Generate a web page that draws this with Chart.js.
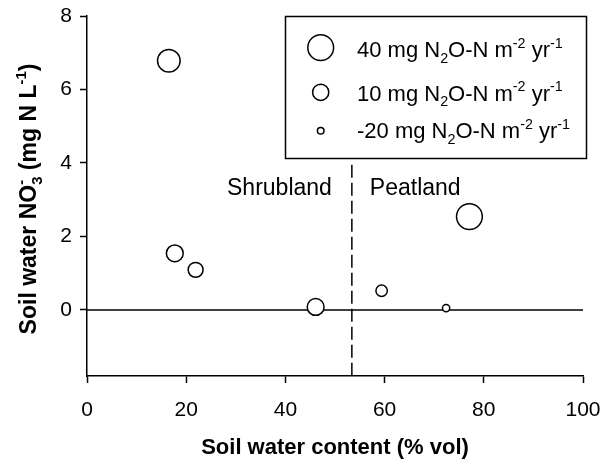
<!DOCTYPE html>
<html>
<head>
<meta charset="utf-8">
<script src="https://cdn.jsdelivr.net/npm/chart.js@4/dist/chart.umd.min.js"></script>
<style>
    html, body { margin: 0; padding: 0; background: #fff; }
</style>
</head>
<body>
<canvas id="chart" width="606" height="460"></canvas>
<script>
// soil water content (% vol) and nitrate (mg N / L) per site
const waterContent = [16.5, 17.7, 21.9, 46.1, 59.4, 72.4, 77.1];
const nitrate = [6.78, 1.54, 1.09, 0.08, 0.52, 0.05, 2.54];
// N2O flux, sets the bubble size
const n2oFlux = [30, 12, 6, 12, -5, -18, 40];

const legendFlux = [40, 10, -20];
const xTicks = [0, 20, 40, 60, 80, 100];
const yTicks = [0, 2, 4, 6, 8];
const boundary = 53.4;
const boundaryTop = 3.95;

const FONT = '"Liberation Sans", Arial, sans-serif';

function fluxRadius(v) {
    return 6.5 + 0.16 * v;
}

// parts: {t} normal, {t, sub}, {t, sup}, {sub, sup} stacked
function richWidth(ctx, parts, size, weight) {
    let w = 0;
    for (const p of parts) {
        if (p.stack) {
            ctx.font = `${weight} ${size * 0.65}px ${FONT}`;
            w += Math.max(ctx.measureText(p.sub).width, ctx.measureText(p.sup).width);
        } else {
            ctx.font = `${weight} ${(p.sub || p.sup) ? size * 0.65 : size}px ${FONT}`;
            w += ctx.measureText(p.t).width;
        }
    }
    return w;
}

function drawRich(ctx, parts, x, y, size, weight) {
    let cx = x;
    ctx.textBaseline = 'alphabetic';
    ctx.textAlign = 'left';
    for (const p of parts) {
        if (p.stack) {
            ctx.font = `${weight} ${size * 0.65}px ${FONT}`;
            ctx.fillText(p.sub, cx, y + size * 0.25);
            ctx.fillText(p.sup, cx, y - size * 0.42);
            cx += Math.max(ctx.measureText(p.sub).width, ctx.measureText(p.sup).width);
        } else if (p.sub) {
            ctx.font = `${weight} ${size * 0.65}px ${FONT}`;
            ctx.fillText(p.t, cx, y + size * 0.25);
            cx += ctx.measureText(p.t).width;
        } else if (p.sup) {
            ctx.font = `${weight} ${size * 0.65}px ${FONT}`;
            ctx.fillText(p.t, cx, y - size * 0.42);
            cx += ctx.measureText(p.t).width;
        } else {
            ctx.font = `${weight} ${size}px ${FONT}`;
            ctx.fillText(p.t, cx, y);
            cx += ctx.measureText(p.t).width;
        }
    }
}

function fluxLabel(v) {
    return [
        {t: v + ' mg N'}, {t: '2', sub: true}, {t: 'O-N m'},
        {t: '-2', sup: true}, {t: ' yr'}, {t: '-1', sup: true}
    ];
}

const decorations = {
    id: 'decorations',
    beforeDatasetsDraw(chart) {
        const ctx = chart.ctx;
        const xs = chart.scales.x, ys = chart.scales.y;
        const area = chart.chartArea;
        ctx.save();
        ctx.strokeStyle = '#000';
        ctx.lineWidth = 1.5;
        // zero line
        ctx.beginPath();
        ctx.moveTo(area.left, ys.getPixelForValue(0));
        ctx.lineTo(area.right, ys.getPixelForValue(0));
        ctx.stroke();
        // shrubland / peatland boundary
        ctx.setLineDash([13, 5]);
        ctx.beginPath();
        ctx.moveTo(xs.getPixelForValue(boundary), ys.getPixelForValue(boundaryTop));
        ctx.lineTo(xs.getPixelForValue(boundary), area.bottom);
        ctx.stroke();
        ctx.restore();
    },
    afterDraw(chart) {
        const ctx = chart.ctx;
        const xs = chart.scales.x, ys = chart.scales.y;
        const area = chart.chartArea;
        ctx.save();
        ctx.fillStyle = '#000';
        ctx.strokeStyle = '#000';

        // region labels
        ctx.font = `23px ${FONT}`;
        ctx.textBaseline = 'middle';
        ctx.textAlign = 'right';
        ctx.fillText('Shrubland', xs.getPixelForValue(boundary) - 20, 189);
        ctx.textAlign = 'left';
        ctx.fillText('Peatland', xs.getPixelForValue(boundary) + 18, 189);

        // legend box
        ctx.lineWidth = 1.5;
        ctx.strokeRect(285.5, 16.5, 301, 142);
        const rowY = [47.7, 92.3, 130.7];
        const baseY = [57.3, 100.7, 138];
        legendFlux.forEach((v, i) => {
            ctx.beginPath();
            ctx.fillStyle = '#fff';
            ctx.arc(320.7, rowY[i], fluxRadius(v), 0, Math.PI * 2);
            ctx.fill();
            ctx.stroke();
            ctx.fillStyle = '#000';
            drawRich(ctx, fluxLabel(v), 357, baseY[i], 22, 'normal');
        });

        // axis titles
        ctx.font = `bold 22px ${FONT}`;
        ctx.textAlign = 'center';
        ctx.textBaseline = 'alphabetic';
        ctx.fillText('Soil water content (% vol)', (area.left + area.right) / 2, 454);

        const yParts = [
            {t: 'Soil water NO'}, {stack: true, sub: '3', sup: '-'},
            {t: ' (mg N L'}, {t: '-1', sup: true}, {t: ')'}
        ];
        const w = richWidth(ctx, yParts, 23, 'bold');
        ctx.translate(36, (area.top + area.bottom) / 2 + 3);
        ctx.rotate(-Math.PI / 2);
        drawRich(ctx, yParts, -w / 2, 0, 23, 'bold');
        ctx.restore();
    }
};

const axisStyle = {
    grid: { drawOnChartArea: false, tickLength: 7, tickColor: '#000', tickWidth: 1.5 },
    border: { color: '#000', width: 1.5 }
};

new Chart(document.getElementById('chart'), {
    type: 'bubble',
    data: {
        datasets: [{
            label: 'N2O flux',
            data: waterContent.map((x, i) => ({ x: x, y: nitrate[i], r: fluxRadius(n2oFlux[i]) })),
            backgroundColor: '#fff',
            borderColor: '#000',
            borderWidth: 1.5
        }]
    },
    options: {
        responsive: false,
        animation: false,
        devicePixelRatio: 1,
        layout: { padding: { top: 16, right: 23, left: 0, bottom: 0 } },
        plugins: { legend: { display: false }, tooltip: { enabled: false } },
        scales: {
            x: {
                type: 'linear',
                min: 0,
                max: 100,
                afterBuildTicks: s => { s.ticks = xTicks.map(v => ({ value: v })); },
                afterFit: s => { s.height = 84; s.paddingLeft = 0; s.paddingRight = 0; },
                ticks: { color: '#000', font: { size: 21, family: FONT }, padding: 15, maxRotation: 0, autoSkip: false },
                ...axisStyle
            },
            y: {
                type: 'linear',
                min: -1.8,
                max: 8,
                afterBuildTicks: s => { s.ticks = yTicks.map(v => ({ value: v })); },
                afterFit: s => { s.width = 87; s.paddingTop = 0; s.paddingBottom = 0; },
                ticks: { color: '#000', font: { size: 21, family: FONT }, padding: 8, autoSkip: false },
                ...axisStyle
            }
        }
    },
    plugins: [decorations]
});
</script>
</body>
</html>
